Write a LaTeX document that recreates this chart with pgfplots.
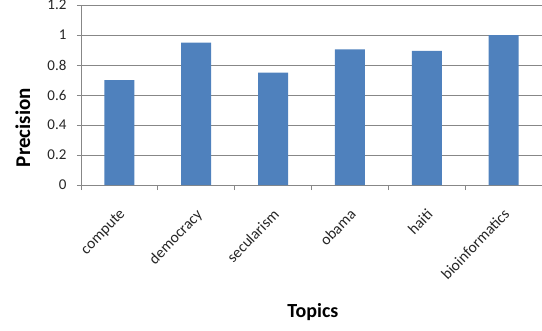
\documentclass[border=0pt]{standalone}
\usepackage{fontspec}
\setmainfont{Carlito}
\usepackage{pgfplots}
\pgfplotsset{compat=1.18}
\definecolor{barblue}{HTML}{4F81BD}
\definecolor{gridgray}{HTML}{878787}
\definecolor{txt}{HTML}{262626}
\begin{document}
\begin{tikzpicture}
\begin{axis}[
  scale only axis,
  width=461bp, height=180bp,
  xmin=-0.5, xmax=5.5,
  ymin=0, ymax=1.2,
  enlargelimits=false,
  axis x line=bottom, axis y line=left,
  axis line style={-, draw=gridgray, line width=0.8bp},
  ytick={0,0.2,...,1.21},
  yticklabels={0,0.2,0.4,0.6,0.8,1,1.2},
  ymajorgrids,
  grid style={draw=gridgray, line width=0.8bp},
  tick align=outside,
  major tick length=4bp,
  tick style={draw=gridgray, line width=0.8bp},
  xtick={0,1,2,3,4,5},
  xticklabels={compute,democracy,secularism,obama,haiti,bioinformatics},
  xtick style={draw=none},
  extra x ticks={-0.5,0.5,1.5,2.5,3.5,4.5,5.5},
  extra x tick labels={},
  extra x tick style={xtick style={draw=gridgray, line width=0.8bp}, major tick length=5bp, grid=none},
  xticklabel style={font=\fontsize{15.5bp}{18bp}\selectfont, text=txt, xshift=-1bp, yshift=-14bp, rotate=46, anchor=north east},
  yticklabel style={font=\fontsize{15bp}{17bp}\selectfont, text=txt, xshift=-7bp},
  /pgf/number format/assume math mode=true,
  xlabel={Topics},
  ylabel={Precision},
  xlabel style={font=\bfseries\fontsize{20bp}{22bp}\selectfont, text=black, at={(axis description cs:0.503,-0.706)}, anchor=center},
  ylabel style={font=\bfseries\fontsize{21bp}{23bp}\selectfont, text=black, at={(axis description cs:-0.126,0.319)}, anchor=center},
  clip=false,
]
\addplot[ybar, bar width=30bp, fill=barblue, draw=none] coordinates {
  (0,0.70) (1,0.95) (2,0.75) (3,0.905) (4,0.895) (5,1.0)
};
\end{axis}
\path (current axis.south west) ++(-81bp,-146bp) coordinate (bbA);
\path (current axis.north east) ++(0bp,5bp) coordinate (bbB);
\pgfresetboundingbox
\path (bbA) rectangle (bbB);
\end{tikzpicture}
\end{document}
